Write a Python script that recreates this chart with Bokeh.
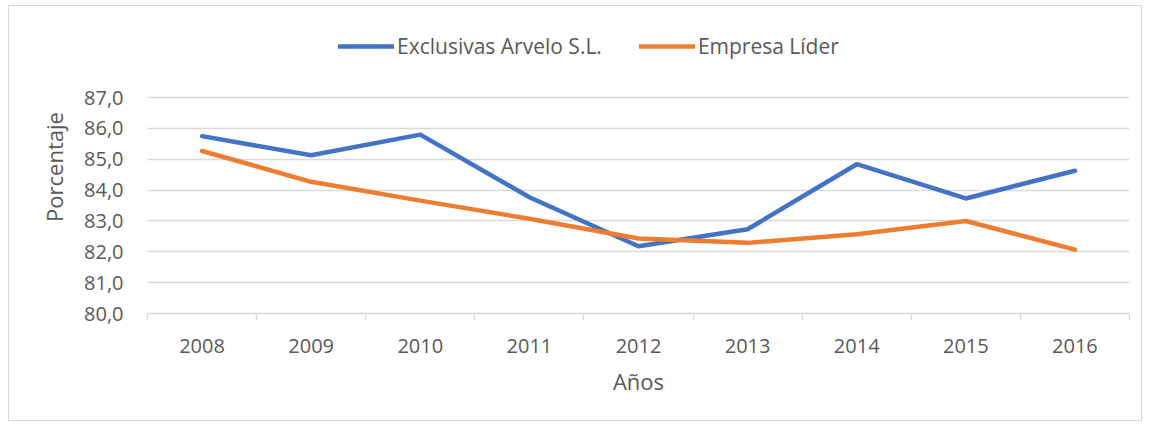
from bokeh.plotting import figure
from bokeh.models import (Range1d, LinearAxis, FixedTicker, CustomJSTickFormatter,
                          Legend, LegendItem)
from bokeh.embed import file_html
from bokeh.resources import INLINE

years = ["2008", "2009", "2010", "2011", "2012", "2013", "2014", "2015", "2016"]
arvelo = [85.75, 85.13, 85.80, 83.77, 82.18, 82.73, 84.84, 83.73, 84.63]
lider = [85.27, 84.27, 83.66, 83.07, 82.43, 82.29, 82.57, 83.00, 82.07]
series_names = ["Exclusivas Arvelo S.L.", "Empresa Líder"]
y_ticks = [80, 81, 82, 83, 84, 85, 86, 87]
y_view_max = 89.5   # headroom above the top tick holds the legend

FONT = "Open Sans"
TXT = "#595959"
GRID = "#d9d9d9"

p = figure(width=1134, height=416, x_range=years, y_range=Range1d(y_ticks[0], y_view_max),
           x_axis_type=None, output_backend="svg", toolbar_location=None,
           title_location=None,
           min_border_left=138, min_border_right=14, min_border_top=14,
           min_border_bottom=109)
p.outline_line_color = None
p.background_fill_color = "white"
p.border_fill_color = "white"

# y axis
yax = p.yaxis[0]
yax.ticker = FixedTicker(ticks=y_ticks)
yax.formatter = CustomJSTickFormatter(code="return tick.toFixed(1).replace('.', ',')")
yax.axis_line_color = None
yax.major_tick_line_color = None
yax.minor_tick_line_color = None
yax.major_tick_out = 0
yax.major_label_standoff = 24
yax.major_label_text_font = FONT
yax.major_label_text_font_size = "20px"
yax.major_label_text_color = TXT
yax.axis_label = "Porcentaje"
yax.axis_label_text_font = FONT
yax.axis_label_text_font_size = "22px"
yax.axis_label_text_font_style = "normal"
yax.axis_label_text_color = TXT
yax.axis_label_standoff = 12

p.ygrid.grid_line_color = GRID
p.ygrid.grid_line_width = 1.3
p.ygrid.ticker = FixedTicker(ticks=y_ticks)

# x axis: labels at category centres, ticks at boundaries
n = len(years)
xax = LinearAxis(
    ticker=FixedTicker(ticks=[i + 0.5 for i in range(n)], minor_ticks=list(range(n + 1))),
    formatter=CustomJSTickFormatter(args=dict(cats=years), code="return cats[Math.floor(tick)]"),
)
xax.axis_line_color = GRID
xax.axis_line_width = 1.3
xax.major_tick_line_color = None
xax.major_tick_out = 0
xax.major_tick_in = 0
xax.minor_tick_line_color = GRID
xax.minor_tick_line_width = 1.3
xax.minor_tick_out = 7
xax.minor_tick_in = 0
xax.major_label_standoff = 18
xax.major_label_text_font = FONT
xax.major_label_text_font_size = "20px"
xax.major_label_text_color = TXT
xax.axis_label = "Años"
xax.axis_label_text_font = FONT
xax.axis_label_text_font_size = "22px"
xax.axis_label_text_font_style = "normal"
xax.axis_label_text_color = TXT
xax.axis_label_standoff = 10
p.add_layout(xax, "below")

r1 = p.line(years, arvelo, line_color="#4472C4", line_width=4.5, line_join="round", line_cap="round")
r2 = p.line(years, lider, line_color="#ED7D31", line_width=4.5, line_join="round", line_cap="round")

legend = Legend(items=[LegendItem(label=series_names[0], renderers=[r1]),
                       LegendItem(label=series_names[1], renderers=[r2])],
                location=(191, 253), orientation="horizontal",
                glyph_width=56, glyph_height=20, label_standoff=3, spacing=37,
                padding=0, margin=0, border_line_color=None, background_fill_alpha=0,
                label_text_font=FONT, label_text_font_size="21px", label_text_color=TXT)
p.add_layout(legend, "center")

p.styles = {"border": "1px solid #d9d9d9", "margin-left": "8px", "margin-top": "5px"}

open("out.html", "w").write(file_html(p, INLINE))
